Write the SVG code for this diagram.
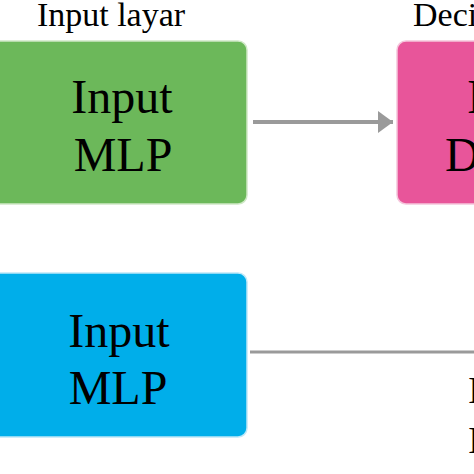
<svg xmlns="http://www.w3.org/2000/svg" width="474" height="474" viewBox="0 0 474 474">
<style>
.t{font-family:"Liberation Serif","Times New Roman",serif;fill:#000}
.big{font-size:48px}
.lbl{font-size:34px}
.frag{font-size:38px}
.conn{stroke:#9a9a9a;fill:none}
</style>
<defs>
<marker id="ah" markerUnits="userSpaceOnUse" markerWidth="16" markerHeight="22" refX="15" refY="11" orient="auto">
<path d="M0,0 L15,11 L0,22 Z" fill="#9a9a9a"/>
</marker>
</defs>
<rect width="474" height="474" fill="#ffffff"/>
<g id="label-input">
<text class="t lbl" x="111" y="26" text-anchor="middle">Input layar</text>
</g>
<g id="label-deci">
<text class="t lbl" x="413" y="26">Deci</text>
</g>
<g id="node-green">
<rect x="-10" y="41" width="257" height="163" rx="9" fill="#6cb85a" stroke="#cfe8c6" stroke-width="1.5"/>
<text class="t big" x="122" y="113" text-anchor="middle">Input</text>
<text class="t big" x="123" y="171" text-anchor="middle">MLP</text>
</g>
<g id="node-pink">
<rect x="397" y="41" width="100" height="163" rx="9" fill="#e8559a" stroke="#f5c6dc" stroke-width="1.5"/>
<text class="t big" x="467" y="113">I</text>
<text class="t big" x="445" y="171">D</text>
</g>
<g id="node-blue">
<rect x="-10" y="273" width="257" height="164" rx="9" fill="#00aeea" stroke="#bfe8f8" stroke-width="1.5"/>
<text class="t big" x="119" y="347" text-anchor="middle">Input</text>
<text class="t big" x="118" y="404" text-anchor="middle">MLP</text>
</g>
<g id="fragments">
<text class="t frag" x="468" y="403">I</text>
<text class="t frag" x="468" y="453">I</text>
</g>
<g id="connectors">
<line class="conn" x1="253" y1="122" x2="393" y2="122" stroke-width="4" marker-end="url(#ah)"/>
<line class="conn" x1="250" y1="352" x2="480" y2="352" stroke-width="3"/>
</g>
</svg>
